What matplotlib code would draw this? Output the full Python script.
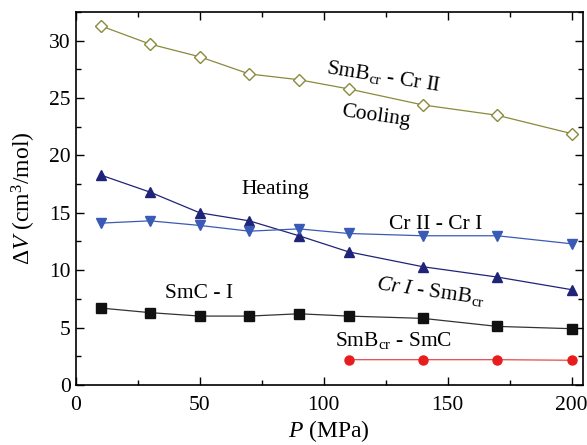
import matplotlib
matplotlib.use("Agg")
import matplotlib.pyplot as plt
from matplotlib.ticker import MultipleLocator

plt.rcParams['font.family'] = ['Liberation Serif', 'DejaVu Serif']
plt.rcParams['mathtext.fontset'] = 'custom'
plt.rcParams['mathtext.rm'] = 'Liberation Serif'
plt.rcParams['mathtext.it'] = 'Liberation Serif:italic'

# pressure (MPa)
P = [10, 30, 50, 70, 90, 110, 140, 170, 200]
P_smb = [110, 140, 170, 200]

# volume changes (cm3/mol)
dv_cooling = [31.3, 29.7, 28.6, 27.1, 26.6, 25.8, 24.4, 23.5, 21.9]
dv_cr1_smb = [18.3, 16.8, 15.0, 14.3, 13.0, 11.6, 10.3, 9.4, 8.3]
dv_cr2_cr1 = [14.1, 14.3, 13.9, 13.4, 13.6, 13.2, 13.0, 13.0, 12.3]
dv_smc_i = [6.7, 6.3, 6.0, 6.0, 6.2, 6.0, 5.8, 5.1, 4.9]
dv_smb_smc = [2.2, 2.2, 2.2, 2.15]

fig = plt.figure(figsize=(5.87, 4.45), dpi=100)
ax = fig.add_axes([0.129, 0.135, 0.864, 0.838])

ax.plot(P, dv_cooling, color='#8a8a3c', lw=0.9, marker='D', ms=6.5,
        mfc='white', mec='#8a8a3c', mew=1.0)
ax.plot(P, dv_cr1_smb, color='#1f2478', lw=0.9, marker='^', ms=7.5,
        mfc='#1f2478', mec='#1f2478')
ax.plot(P, dv_cr2_cr1, color='#3a5bb5', lw=0.9, marker='v', ms=7.5,
        mfc='#3a5bb5', mec='#3a5bb5')
ax.plot(P, dv_smc_i, color='#333333', lw=0.9, marker='s', ms=7,
        mfc='#111111', mec='#111111')
ax.plot(P_smb, dv_smb_smc, color='#e84848', lw=0.9, marker='o', ms=6.5,
        mfc='#e81c1c', mec='#e81c1c')

fs = 15.5
ax.text(124, 26.9, r'SmB$_{\mathrm{cr}}$ - Cr II', fontsize=fs, rotation=-9,
        ha='center', va='center')
ax.text(121, 23.4, 'Cooling', fontsize=fs, rotation=-8, ha='center', va='center')
ax.text(80.5, 17.0, 'Heating', fontsize=fs, ha='center', va='center')
ax.text(145, 14.0, 'Cr II - Cr I', fontsize=fs, ha='center', va='center')
ax.text(143, 8.2, r'$Cr\ I$ - SmB$_{\mathrm{cr}}$', fontsize=fs, rotation=-8,
        ha='center', va='center')
ax.text(49.7, 8.0, 'SmC - I', fontsize=fs, ha='center', va='center')
ax.text(128, 3.9, r'SmB$_{\mathrm{cr}}$ - SmC', fontsize=fs, ha='center', va='center')

ax.set_xlim(0, 204.5)
ax.set_ylim(0, 32.5)
ax.xaxis.set_major_locator(MultipleLocator(50))
ax.xaxis.set_minor_locator(MultipleLocator(25))
ax.yaxis.set_major_locator(MultipleLocator(5))
ax.yaxis.set_minor_locator(MultipleLocator(2.5))
ax.tick_params(which='both', direction='in', top=True, right=True, labelsize=15.5, width=1.0)
ax.tick_params(axis='x', which='major', pad=8)
ax.tick_params(which='major', length=6)
ax.tick_params(which='minor', length=3.5)
for s in ax.spines.values():
    s.set_linewidth(1.2)

ax.set_xlabel(r'$P$ (MPa)', fontsize=17, labelpad=2)
ax.set_ylabel(r'$\Delta V$ (cm$^3$/mol)', fontsize=17, labelpad=8)

fig.savefig('out.png', dpi=100)
